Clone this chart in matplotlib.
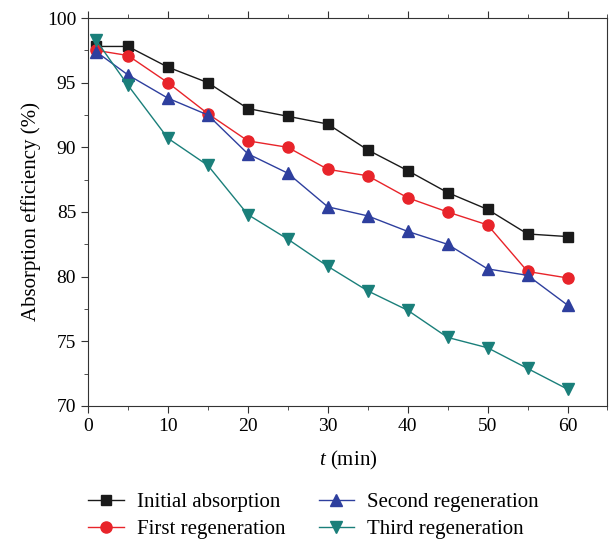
import matplotlib
matplotlib.use("Agg")
import matplotlib.pyplot as plt
from matplotlib.ticker import MultipleLocator

plt.rcParams['font.family'] = ['Liberation Serif', 'DejaVu Serif']
plt.rcParams['mathtext.fontset'] = 'custom'
plt.rcParams['mathtext.it'] = 'Liberation Serif:italic'
plt.rcParams['mathtext.rm'] = 'Liberation Serif'

t = [1, 5, 10, 15, 20, 25, 30, 35, 40, 45, 50, 55, 60]
initial = [97.8, 97.8, 96.2, 95.0, 93.0, 92.4, 91.8, 89.8, 88.2, 86.5, 85.2, 83.3, 83.1]
first = [97.5, 97.1, 95.0, 92.6, 90.5, 90.0, 88.3, 87.8, 86.1, 85.0, 84.0, 80.4, 79.9]
second = [97.4, 95.6, 93.8, 92.5, 89.5, 88.0, 85.4, 84.7, 83.5, 82.5, 80.6, 80.1, 77.8]
third = [98.3, 94.8, 90.7, 88.6, 84.8, 82.9, 80.8, 78.9, 77.4, 75.3, 74.5, 72.9, 71.3]

fig = plt.figure(figsize=(6.09, 5.39), dpi=100)
ax = fig.add_axes([0.1445, 0.2468, 0.853, 0.7198])

ax.plot(t, initial, color='#1a1a1a', marker='s', ms=7, lw=1, label='Initial absorption')
ax.plot(t, first, color='#e8242a', marker='o', ms=8, lw=1, label='First regeneration')
ax.plot(t, second, color='#2e3f9e', marker='^', ms=8, lw=1, label='Second regeneration')
ax.plot(t, third, color='#1a7f7a', marker='v', ms=8, lw=1, label='Third regeneration')

ax.set_xlim(0, 65)
ax.set_ylim(70, 100)
ax.xaxis.set_major_locator(MultipleLocator(10))
ax.xaxis.set_minor_locator(MultipleLocator(5))
ax.yaxis.set_major_locator(MultipleLocator(5))
ax.yaxis.set_minor_locator(MultipleLocator(2.5))
ax.tick_params(which='both', direction='out', top=True, labelsize=14, color='#333333')
ax.tick_params(which='major', length=5)
ax.tick_params(which='minor', length=3)
for s in ax.spines.values():
    s.set_color('#333333')

ax.set_xlabel('$t$ (min)', fontsize=15, labelpad=10)
ax.set_ylabel('Absorption efficiency (%)', fontsize=15)

fig.legend(loc='lower center', bbox_to_anchor=(0.515, -0.035), ncol=2, frameon=False,
           fontsize=15, handlelength=1.7, handletextpad=0.63, columnspacing=1.6,
           labelspacing=0.35)

fig.savefig('out.png', dpi=100)
